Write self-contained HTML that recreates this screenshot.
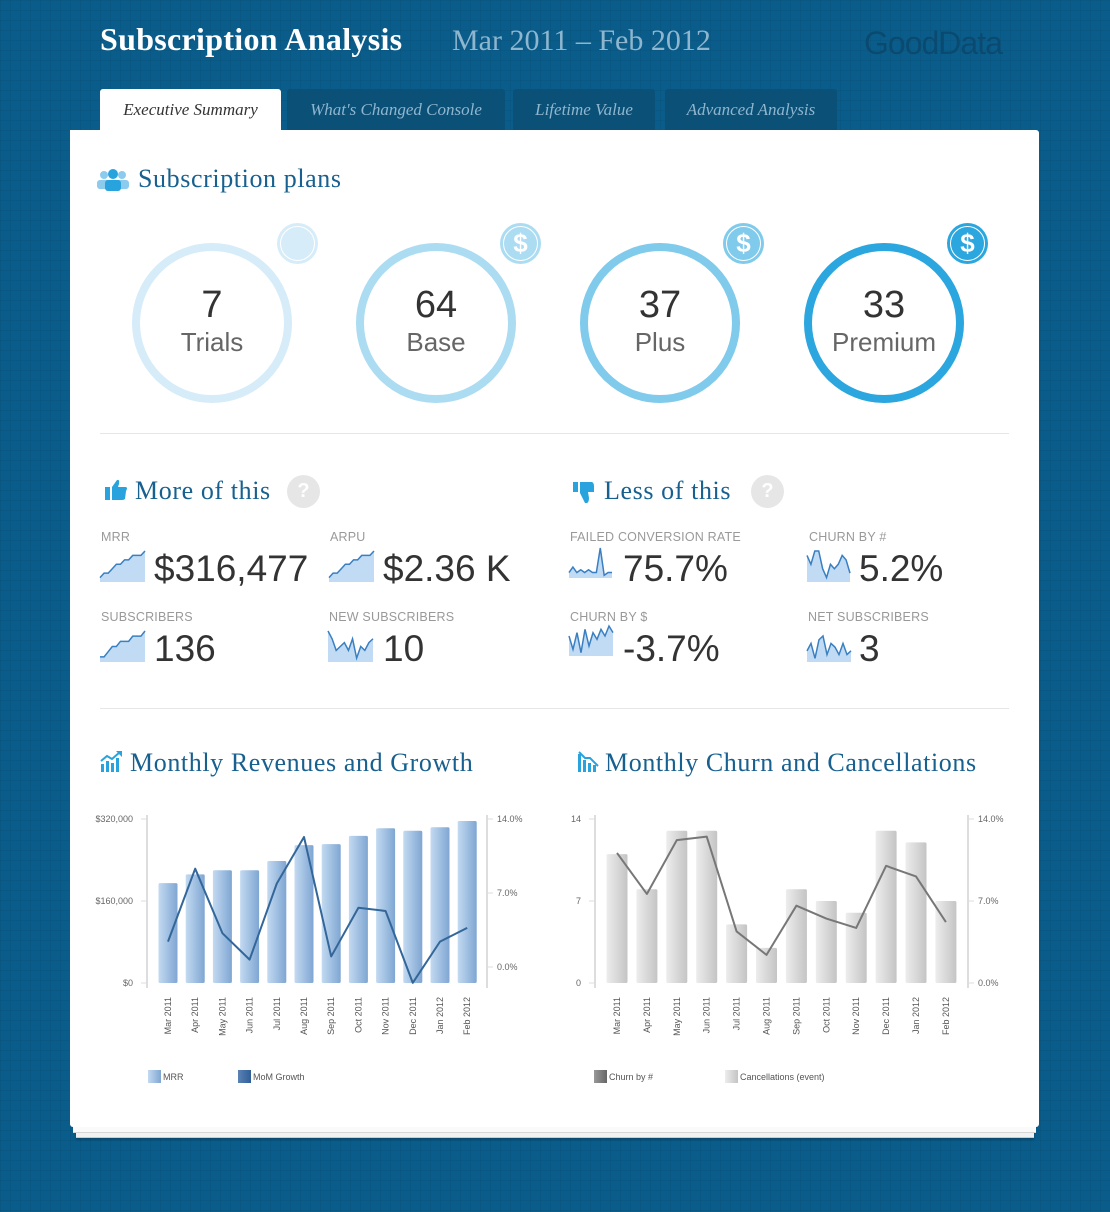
<!DOCTYPE html>
<html><head><meta charset="utf-8">
<style>
*{margin:0;padding:0;box-sizing:border-box}
body{width:1110px;height:1212px;overflow:hidden;position:relative;font-family:"Liberation Sans",sans-serif;
background-color:#0a5d8a;
background-image:linear-gradient(rgba(0,40,70,.09) 1px,transparent 1px),linear-gradient(90deg,rgba(0,40,70,.09) 1px,transparent 1px);
background-size:10px 10px}
.abs{position:absolute}
.serif{font-family:"Liberation Serif",serif}
.tab{position:absolute;top:89px;height:41px;background:#0b5077;color:#8fb6cf;font-family:"Liberation Serif",serif;font-style:italic;font-size:17px;line-height:42px;text-align:center;border-radius:3px 3px 0 0}
.h2{position:absolute;font-family:"Liberation Serif",serif;color:#17608f;font-size:26px;letter-spacing:0.6px}
.lbl{position:absolute;font-size:12.5px;color:#999;letter-spacing:.2px}
.val{position:absolute;font-size:37px;color:#333}
.q{position:absolute;width:33px;height:33px;border-radius:50%;background:#e6e6e6;color:#fff;font-weight:bold;font-size:20px;text-align:center;line-height:33px}
.ring{position:absolute;width:160px;height:160px;border-radius:50%;text-align:center}
.ring .n{font-size:38px;color:#333;margin-top:32px;line-height:44px}
.ring .t{font-size:26px;color:#666;line-height:30px}
.badge{position:absolute;width:41px;height:41px;border-radius:50%;color:#fff;font-weight:bold;font-size:26px;text-align:center;line-height:40px}
.badge::after{content:"";position:absolute;left:3px;top:3px;right:3px;bottom:3px;border:1.5px solid #fff;border-radius:50%}
.sep{position:absolute;left:100px;width:909px;height:1px;background:#e6e6e6}
</style></head><body>
<div class="abs serif" style="left:100px;top:21px;font-size:32px;font-weight:bold;color:#fff;letter-spacing:0.3px">Subscription Analysis</div>
<div class="abs serif" style="left:452px;top:24px;font-size:30px;color:#8fb6cf">Mar 2011 – Feb 2012</div>
<div class="abs" style="left:864px;top:25px;font-size:32px;color:#0b4a70;letter-spacing:-1px">GoodData</div>

<div class="tab" style="left:100px;width:181px;background:#fff;color:#333;height:42px">Executive Summary</div>
<div class="tab" style="left:287px;width:218px">What's Changed Console</div>
<div class="tab" style="left:513px;width:142px">Lifetime Value</div>
<div class="tab" style="left:665px;width:172px">Advanced Analysis</div>

<div class="abs" style="left:76px;top:1126px;width:958px;height:12px;background:#f2f2f2;border-bottom:1px solid #ccc;box-shadow:0 2px 2px rgba(0,0,0,.2)"></div>
<div class="abs" style="left:73px;top:1124px;width:963px;height:9px;background:#fafafa;border-bottom:1px solid #d6d6d6"></div>
<div class="abs" style="left:70px;top:130px;width:969px;height:997px;background:#fff;border-radius:0 3px 3px 3px"></div>

<svg class="abs" style="left:96px;top:168px" width="34" height="24"><circle cx="8" cy="7" r="4" fill="#8ccbee"/><circle cx="26" cy="7" r="4" fill="#8ccbee"/><rect x="1" y="12" width="14" height="9" rx="3" fill="#8ccbee"/><rect x="19" y="12" width="14" height="9" rx="3" fill="#8ccbee"/><circle cx="17" cy="6" r="5" fill="#29a3de"/><rect x="9" y="12" width="16" height="11" rx="3" fill="#29a3de"/></svg>
<div class="h2" style="left:138px;top:164px">Subscription plans</div>

<div class="ring" style="left:132px;top:243px;border:8px solid #d6ecf9"><div class="n">7</div><div class="t">Trials</div></div>
<div class="badge" style="left:277px;top:223px;background:#d6ecf9"></div>
<div class="ring" style="left:356px;top:243px;border:8px solid #acdcf2"><div class="n">64</div><div class="t">Base</div></div>
<div class="badge" style="left:500px;top:223px;background:#acdcf2">$</div>
<div class="ring" style="left:580px;top:243px;border:8px solid #80caec"><div class="n">37</div><div class="t">Plus</div></div>
<div class="badge" style="left:723px;top:223px;background:#80caec">$</div>
<div class="ring" style="left:804px;top:243px;border:8px solid #2ba6df"><div class="n">33</div><div class="t">Premium</div></div>
<div class="badge" style="left:947px;top:223px;background:#2ba6df">$</div>

<div class="sep" style="top:433px"></div>

<svg class="abs" style="left:104px;top:478px" width="24" height="24"><rect x="1" y="9" width="5" height="13" fill="#29a3de"/><path d="M8 9 L13 2 Q16 1 15 6 L14 9 L22 9 Q24 10 22 13 L21 21 Q20 22 18 22 L8 22Z" fill="#29a3de"/></svg>
<div class="h2" style="left:135px;top:476px">More of this</div>
<div class="q" style="left:287px;top:475px">?</div>
<svg class="abs" style="left:572px;top:481px" width="24" height="24"><rect x="1" y="1" width="5" height="10" fill="#29a3de"/><path d="M8 1 L20 1 Q22 2 22 5 L22 11 L16 11 L17 17 Q17 23 13 22 L8 12Z" fill="#29a3de"/></svg>
<div class="h2" style="left:604px;top:476px">Less of this</div>
<div class="q" style="left:751px;top:475px">?</div>

<div class="lbl" style="left:101px;top:530px">MRR</div>
<div class="val" style="left:154px;top:548px">$316,477</div>
<div class="lbl" style="left:330px;top:530px">ARPU</div>
<div class="val" style="left:383px;top:548px">$2.36 K</div>
<div class="lbl" style="left:101px;top:610px">SUBSCRIBERS</div>
<div class="val" style="left:154px;top:628px">136</div>
<div class="lbl" style="left:329px;top:610px">NEW SUBSCRIBERS</div>
<div class="val" style="left:383px;top:628px">10</div>
<div class="lbl" style="left:570px;top:530px">FAILED CONVERSION RATE</div>
<div class="val" style="left:623px;top:548px">75.7%</div>
<div class="lbl" style="left:809px;top:530px">CHURN BY #</div>
<div class="val" style="left:859px;top:548px">5.2%</div>
<div class="lbl" style="left:570px;top:610px">CHURN BY $</div>
<div class="val" style="left:623px;top:628px">-3.7%</div>
<div class="lbl" style="left:808px;top:610px">NET SUBSCRIBERS</div>
<div class="val" style="left:859px;top:628px">3</div>

<svg id="sparks" class="abs" style="left:0;top:0" width="1110" height="700"></svg>

<div class="sep" style="top:708px"></div>

<svg class="abs" style="left:100px;top:750px" width="24" height="24"><rect x="1" y="14" width="3" height="8" fill="#29a3de"/><rect x="6" y="11" width="3" height="11" fill="#29a3de"/><rect x="11" y="13" width="3" height="9" fill="#29a3de"/><rect x="16" y="8" width="3" height="14" fill="#29a3de"/><path d="M1 11 L7 6 L12 9 L20 2" stroke="#29a3de" stroke-width="2" fill="none"/><path d="M16 1 L22 1 L22 7Z" fill="#29a3de"/></svg>
<div class="h2" style="left:130px;top:748px">Monthly Revenues and Growth</div>
<svg class="abs" style="left:577px;top:750px" width="24" height="24"><rect x="1" y="4" width="3" height="18" fill="#29a3de"/><rect x="6" y="10" width="3" height="12" fill="#29a3de"/><rect x="11" y="13" width="3" height="9" fill="#29a3de"/><rect x="16" y="15" width="3" height="7" fill="#29a3de"/><path d="M2 2 L8 8 L13 8 L21 16" stroke="#29a3de" stroke-width="2" fill="none"/></svg>
<div class="h2" style="left:605px;top:748px">Monthly Churn and Cancellations</div>

<svg id="chart" class="abs" style="left:0;top:0" width="1110" height="1212" font-family="Liberation Sans, sans-serif">
<defs>
<linearGradient id="gb" x1="0" x2="1"><stop offset="0" stop-color="#c3daf1"/><stop offset="1" stop-color="#7fa6d2"/></linearGradient>
<linearGradient id="gg" x1="0" x2="1"><stop offset="0" stop-color="#ededed"/><stop offset="1" stop-color="#c4c4c4"/></linearGradient>
<linearGradient id="gd" x1="0" x2="1"><stop offset="0" stop-color="#5b82b5"/><stop offset="1" stop-color="#2f5f97"/></linearGradient>
<linearGradient id="gdg" x1="0" x2="1"><stop offset="0" stop-color="#999"/><stop offset="1" stop-color="#666"/></linearGradient>
</defs>
</svg>

<script>
const months = ["Mar 2011","Apr 2011","May 2011","Jun 2011","Jul 2011","Aug 2011","Sep 2011","Oct 2011","Nov 2011","Dec 2011","Jan 2012","Feb 2012"];
const mrrValues = [195000,212000,220000,220000,238000,269000,271000,287000,302000,297000,304000,316000];
const momGrowth = [2.4,9.3,3.2,0.7,7.9,12.3,1.0,5.6,5.3,-1.5,2.4,3.7];
const cancellations = [11,8,13,13,5,3,8,7,6,13,12,7];
const churnPct = [11.1,7.6,12.2,12.5,4.4,2.4,6.6,5.5,4.7,10.0,9.1,5.2];
const mrrTicks = ["$0","$160,000","$320,000"];
const growthTicks = ["0.0%","7.0%","14.0%"];
const cancelTicks = ["0","7","14"];
const churnTicks = ["0.0%","7.0%","14.0%"];
const sparkMrr = [3,4,4,5,6,6,7,7,8,8,8,9];
const sparkArpu = [3,4,4,5,6,6,7,7,8,8,8,9];
const sparkSubs = [5,5,6,7,7,8,8,8,9,9,9,10];
const sparkNew = [10,8,5,6,7,5,8,3,6,5,7,8];
const sparkFailed = [3,5,3,4,3,4,3,3,12,2,3,3];
const sparkChurnCount = [8,6,9,9,5,3,6,5,6,8,7,4];
const sparkChurnDollar = [7,3,8,2,9,4,8,6,9,7,10,8];
const sparkNet = [4,6,2,7,8,3,6,5,3,6,3,4];

const NS="http://www.w3.org/2000/svg";
const svg=document.getElementById('chart');
function mk(tag,attrs,parent){const e=document.createElementNS(NS,tag);for(const k in attrs)e.setAttribute(k,attrs[k]);(parent||svg).appendChild(e);return e;}
function txt(s,attrs,parent){const e=mk('text',attrs,parent);e.textContent=s;return e;}

function drawChart(o){
  const yL=v=>o.bottom-(v-o.lmin)/(o.lmax-o.lmin)*(o.bottom-o.top);
  const yR=v=>o.rBottom-(v-o.rmin)/(o.rmax-o.rmin)*(o.rBottom-o.top);
  const xc=i=>o.x0+i*o.step;
  let a=mk('line',{x1:o.axL,x2:o.axL,y1:o.top-4,y2:o.bottom+5,stroke:'#ddd','stroke-width':2});
  
  a=mk('line',{x1:o.axR,x2:o.axR,y1:o.top-4,y2:o.bottom+5,stroke:'#ddd','stroke-width':2});
  
  o.lt.forEach((t,i)=>{const v=o.lmin+i*(o.lmax-o.lmin)/(o.lt.length-1);const y=yL(v);
    mk('line',{x1:o.axL-6,x2:o.axL,y1:y,y2:y,stroke:'#ddd'});
    const e=txt(t,{x:o.axL-14,y:y+3,'text-anchor':'end','font-size':9,fill:'#666'});
    });
  o.rt.forEach((t,i)=>{const v=o.rmin+i*(o.rmax-o.rmin)/(o.rt.length-1);const y=yR(v);
    mk('line',{x1:o.axR,x2:o.axR+6,y1:y,y2:y,stroke:'#ddd'});
    const e=txt(t,{x:o.axR+10,y:y+3,'font-size':9,fill:'#666'});
    });
  o.bars.forEach((v,i)=>{const y=yL(v);
    const r=mk('rect',{x:xc(i)-o.bw/2,y:y,width:o.bw,height:o.bottom-y,fill:o.fill,rx:1.5});
    });
  const pts=o.line.map((v,i)=>xc(i)+','+yR(v)).join(' ');
  const l=mk('polyline',{points:pts,fill:'none',stroke:o.lc,'stroke-width':2,'stroke-linejoin':'round'});
  
  months.forEach((m,i)=>{const x=xc(i)+3;
    const e=txt(m,{x:x,y:o.bottom+14,'font-size':9,fill:'#555','text-anchor':'end',transform:'rotate(-90 '+x+' '+(o.bottom+14)+')'});
    });
  o.legend.forEach(lg=>{
    const s=mk('rect',{x:lg.x,y:1070,width:13,height:13,fill:lg.fill});
    
    const e=txt(lg.t,{x:lg.x+15,y:1080,'font-size':9,fill:'#555'});
    });
}
drawChart({id:'revenue',x0:168,step:27.2,bw:19,axL:147,axR:487,top:819,bottom:983,rBottom:967,lmin:0,lmax:320000,rmin:0,rmax:14,
  bars:mrrValues,line:momGrowth,lt:mrrTicks,rt:growthTicks,fill:'url(#gb)',lc:'#336699',
  legend:[{x:148,t:'MRR',fill:'url(#gb)'},{x:238,t:'MoM Growth',fill:'url(#gd)'}]});
drawChart({id:'churn',x0:617,step:29.9,bw:21,axL:595,axR:968,top:819,bottom:983,rBottom:983,lmin:0,lmax:14,rmin:0,rmax:14,
  bars:cancellations,line:churnPct,lt:cancelTicks,rt:churnTicks,fill:'url(#gg)',lc:'#777',
  legend:[{x:594,t:'Churn by #',fill:'url(#gdg)'},{x:725,t:'Cancellations (event)',fill:'url(#gg)'}]});

const sp=document.getElementById('sparks');
function spark(data,x,y,w,h,name){
  const mx=Math.max(...data),mn=Math.min(...data)-1;
  const px=i=>x+i*w/(data.length-1), py=v=>y+h-(v-mn)/(mx-mn)*h;
  const pts=data.map((v,i)=>px(i)+','+py(v)).join(' ');
  const a=mk('polygon',{points:x+','+(y+h)+' '+pts+' '+(x+w)+','+(y+h),fill:'#c0dbf3'},sp);
  
  const l=mk('polyline',{points:pts,fill:'none',stroke:'#3a7fc1','stroke-width':1.5},sp);
  
}
spark(sparkMrr,100,551,45,31,'mrr-sparkline');
spark(sparkArpu,329,551,45,31,'arpu-sparkline');
spark(sparkSubs,100,631,45,31,'subscribers-sparkline');
spark(sparkNew,328,631,45,31,'new-subscribers-sparkline');
spark(sparkFailed,569,548,43,30,'failed-conversion-sparkline');
spark(sparkChurnCount,807,551,43,31,'churn-count-sparkline');
spark(sparkChurnDollar,569,626,44,30,'churn-dollar-sparkline');
spark(sparkNet,807,636,44,26,'net-subscribers-sparkline');
</script>
</body></html>
